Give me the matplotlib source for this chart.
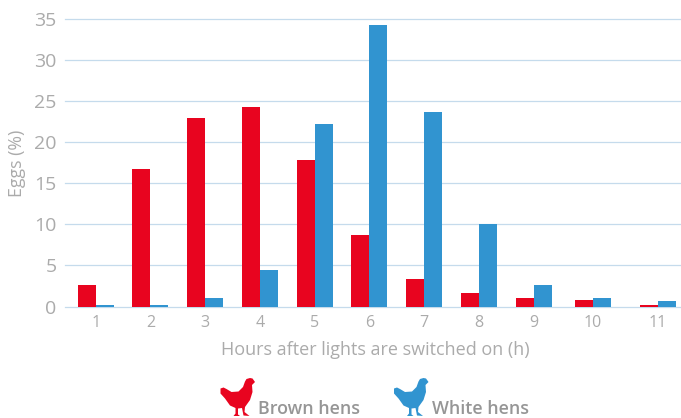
import numpy as np
import matplotlib
matplotlib.use("Agg")
import matplotlib.pyplot as plt
from matplotlib.patches import PathPatch
from matplotlib.path import Path
from matplotlib.transforms import Affine2D

hours = ["1", "2", "3", "4", "5", "6", "7", "8", "9", "10", "11"]
brown_hens = [2.6, 16.7, 23.0, 24.3, 17.8, 8.7, 3.4, 1.7, 1.0, 0.8, 0.2]
white_hens = [0.2, 0.2, 1.0, 4.4, 22.2, 34.3, 23.7, 10.0, 2.6, 1.0, 0.7]
y_ticks = [0, 5, 10, 15, 20, 25, 30, 35]

# last two groups sit further apart in the original
centers = np.array([96, 150.4, 205, 260, 315, 369.4, 424, 479, 534, 593, 658])

RED = "#e8041f"
BLUE = "#3194d0"
GRID = "#c5dbec"
GREY = "#ababab"
W, H = 681, 418

plt.rcParams["font.family"] = ["Open Sans", "DejaVu Sans"]

fig = plt.figure(figsize=(W / 100, H / 100), dpi=100)
ax = fig.add_axes([65 / W, (H - 306.5) / H, (W - 65) / W, 287.2 / H])

ax.bar(centers - 9, brown_hens, width=18, color=RED, zorder=3)
ax.bar(centers + 9, white_hens, width=18, color=BLUE, zorder=3)

ax.set_xlim(65, W)
ax.set_ylim(0, 35)
ax.set_yticks(y_ticks)
ax.set_xticks(centers)
ax.set_xticklabels(hours)
ax.grid(axis="y", color=GRID, linewidth=0.9, zorder=1)
ax.tick_params(axis="both", length=0, labelcolor=GREY)
ax.tick_params(axis="y", labelsize=14, pad=6)
ax.tick_params(axis="x", labelsize=11.5, pad=6)
for s in ax.spines.values():
    s.set_visible(False)
for g in ax.get_ygridlines():
    g.set_clip_on(False)

fig.text(17 / W, 1 - 163 / H, "Eggs (%)", color=GREY, fontsize=12.8, rotation=90,
         ha="center", va="center")
fig.text(375 / W, 1 - 350 / H, "Hours after lights are switched on (h)", color=GREY,
         fontsize=13, ha="center", va="center")

# hen outline traced from the icon, in pixels from its top left corner
hen = [(29.5, 0.5), (32, 1), (34.5, 4.5), (31.5, 7.5), (32, 14.5), (29.5, 22.5), (24.5, 29.5),
       (24, 34.5), (29, 38.5), (23, 38), (21.5, 30.5), (17.5, 31), (17.5, 37), (19.5, 38.5),
       (13, 38.5), (15, 36), (15, 30.5), (9.5, 28), (4.5, 21), (0, 16), (0, 11), (3, 10),
       (6, 11.5), (11, 14.5), (18, 14), (22.5, 9.5), (24.5, 4), (26, 1.5)]


def draw_hen(x0, y0, color):
    pts = [(x0 + px, H - (y0 + py)) for px, py in hen]
    path = Path(pts + [pts[0]], closed=True)
    fig.add_artist(PathPatch(path, facecolor=color, edgecolor="none",
                             transform=Affine2D().scale(1 / W, 1 / H) + fig.transFigure))


draw_hen(220.5, 377.5, RED)
draw_hen(394, 377.5, BLUE)

fig.text(258.5 / W, 1 - 409.5 / H, "Brown hens", color="#969696", fontsize=12.9,
         fontweight="semibold", ha="left", va="center")
fig.text(431.5 / W, 1 - 409.5 / H, "White hens", color="#969696", fontsize=12.9,
         fontweight="semibold", ha="left", va="center")

fig.savefig("out.png", dpi=100)
